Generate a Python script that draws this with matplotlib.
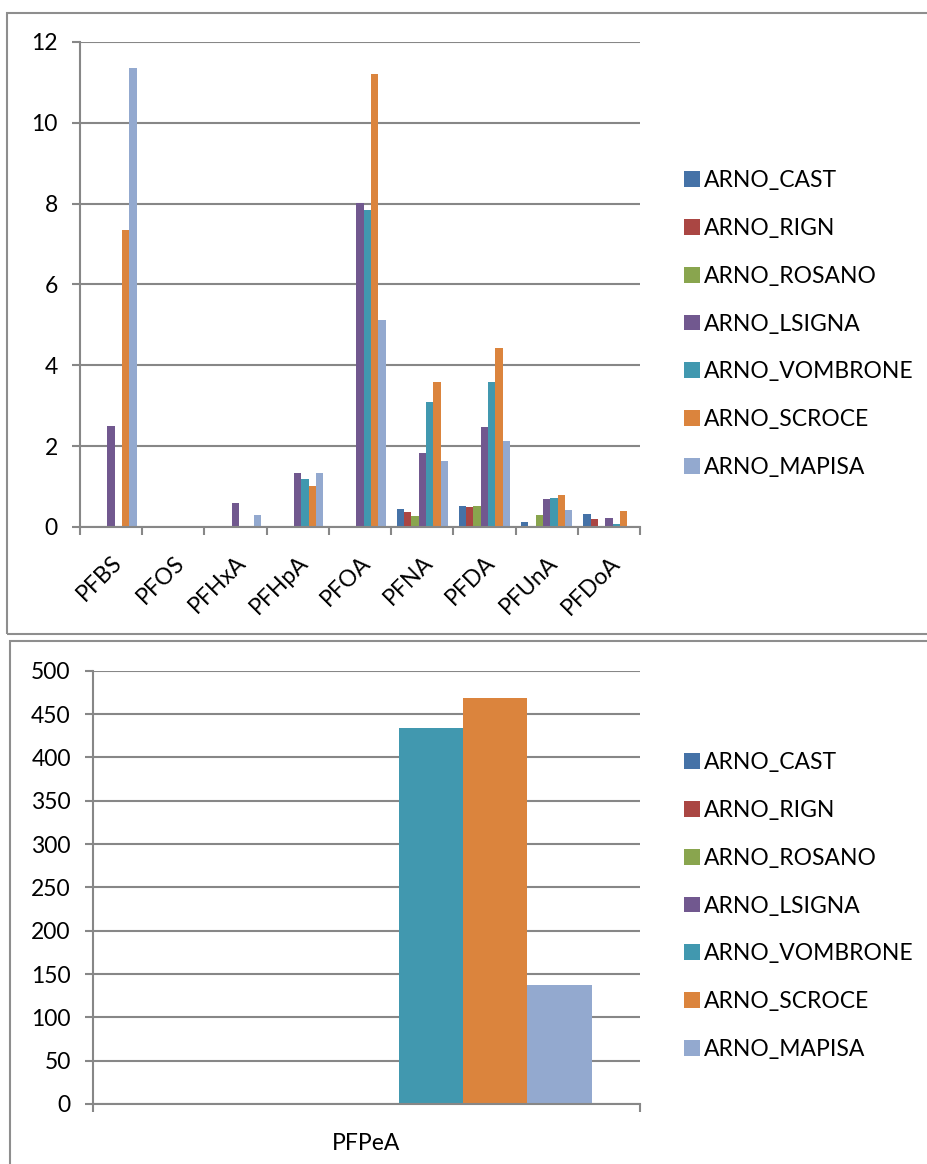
import numpy as np
import matplotlib
matplotlib.use("Agg")
import matplotlib.pyplot as plt
from matplotlib.patches import Rectangle

plt.rcParams['font.family'] = ['Lato', 'DejaVu Sans']

# Compounds in the upper chart
compounds = ["PFBS", "PFOS", "PFHxA", "PFHpA", "PFOA", "PFNA", "PFDA", "PFUnA", "PFDoA"]

# Concentrations per sampling station (upper chart)
arno_cast     = [0.00, 0.00, 0.00, 0.00, 0.00, 0.44, 0.53, 0.13, 0.31]
arno_rign     = [0.00, 0.00, 0.00, 0.00, 0.00, 0.38, 0.49, 0.00, 0.19]
arno_rosano   = [0.00, 0.00, 0.00, 0.00, 0.00, 0.26, 0.51, 0.30, 0.00]
arno_lsigna   = [2.50, 0.00, 0.60, 1.33, 8.02, 1.82, 2.47, 0.70, 0.23]
arno_vombrone = [0.00, 0.00, 0.00, 1.19, 7.85, 3.10, 3.59, 0.72, 0.07]
arno_scroce   = [7.35, 0.00, 0.00, 1.01, 11.22, 3.59, 4.43, 0.79, 0.40]
arno_mapisa   = [11.35, 0.00, 0.29, 1.34, 5.13, 1.63, 2.14, 0.41, 0.00]

# Lower chart: PFPeA
pfpea_label = ["PFPeA"]
pfpea_values = [0.0, 0.0, 0.0, 0.0, 434.0, 469.0, 137.0]

stations = ["ARNO_CAST", "ARNO_RIGN", "ARNO_ROSANO", "ARNO_LSIGNA",
            "ARNO_VOMBRONE", "ARNO_SCROCE", "ARNO_MAPISA"]
colors = ["#4572A7", "#AA4643", "#89A54E", "#71588F", "#4198AF", "#DB843D", "#93A9CF"]

upper_series = [arno_cast, arno_rign, arno_rosano, arno_lsigna,
                arno_vombrone, arno_scroce, arno_mapisa]

W, H = 928, 1164
fig = plt.figure(figsize=(W / 100, H / 100), dpi=100)

AX_GRAY = "#878787"
FS = 16.5


def frac_box(x0, y0, x1, y1):
    return [x0 / W, 1 - y1 / H, (x1 - x0) / W, (y1 - y0) / H]


# Panel borders
for (x0, y0, x1, y1) in [(7, 13, 960, 634), (10, 641, 960, 1200)]:
    fig.patches.append(Rectangle((x0 / W, 1 - y1 / H), (x1 - x0) / W, (y1 - y0) / H,
                                 transform=fig.transFigure, fill=False,
                                 edgecolor="#8e8e8e", linewidth=1.5))


def style_axes(ax):
    for s in ["top", "right"]:
        ax.spines[s].set_visible(False)
    for s in ["left", "bottom"]:
        ax.spines[s].set_color(AX_GRAY)
        ax.spines[s].set_linewidth(1.5)
    ax.yaxis.grid(True, color=AX_GRAY, linewidth=1.5)
    ax.set_axisbelow(True)
    ax.tick_params(axis="y", which="major", length=6, width=1.5, color=AX_GRAY,
                   pad=10, labelsize=FS)
    ax.tick_params(axis="x", which="major", length=6, width=1.5, color=AX_GRAY,
                   labelbottom=False)
    ax.tick_params(axis="x", which="minor", length=0, labelsize=FS)


def add_legend(ax, handles, center_y):
    ax.legend(handles, stations, loc="center left",
              bbox_to_anchor=(675 / W, 1 - center_y / H),
              bbox_transform=fig.transFigure, frameon=False, fontsize=FS,
              handlelength=0.68, handleheight=0.68, handletextpad=0.2,
              labelspacing=1.17, borderaxespad=0)


n = len(stations)
bw = 1.0 / (n + 1.5)

# Upper chart
ax1 = fig.add_axes(frac_box(80, 42, 640, 527))
x = np.arange(len(compounds)) + 0.5
handles = []
for i, (vals, c) in enumerate(zip(upper_series, colors)):
    b = ax1.bar(x + (i - (n - 1) / 2) * bw, vals, width=bw, color=c, linewidth=0)
    handles.append(b)
ax1.set_xlim(0, len(compounds))
ax1.set_ylim(0, 12)
ax1.set_yticks(np.arange(0, 13, 2))
ax1.set_xticks(np.arange(0, len(compounds) + 1))
ax1.set_xticks(x, minor=True)
ax1.set_xticklabels(compounds, minor=True, rotation=45, ha="right",
                    rotation_mode="anchor")
style_axes(ax1)
ax1.tick_params(axis="x", which="minor", pad=18)
add_legend(ax1, handles, 324)

# Lower chart
ax2 = fig.add_axes(frac_box(93, 670.7, 640, 1104))
handles2 = []
for i, (v, c) in enumerate(zip(pfpea_values, colors)):
    b = ax2.bar(0.5 + (i - (n - 1) / 2) * bw, v, width=bw, color=c, linewidth=0)
    handles2.append(b)
ax2.set_xlim(0, 1)
ax2.set_ylim(0, 500)
ax2.set_yticks(np.arange(0, 501, 50))
ax2.set_xticks([0, 1])
ax2.set_xticks([0.5], minor=True)
ax2.set_xticklabels(pfpea_label, minor=True)
style_axes(ax2)
ax2.tick_params(axis="x", which="minor", pad=21)
add_legend(ax2, handles2, 906)

fig.savefig("out.png", dpi=100)
